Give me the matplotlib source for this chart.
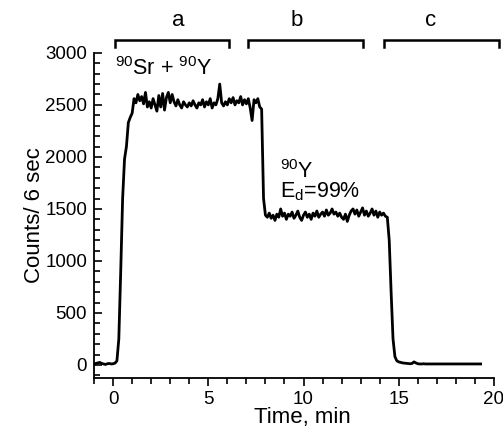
import numpy as np
import matplotlib.pyplot as plt
from matplotlib.ticker import MultipleLocator

plt.rcParams['font.family'] = ['Liberation Sans', 'DejaVu Sans']
plt.rcParams['mathtext.default'] = 'regular'

# --- data (one reading every 6 s = 0.1 min) ---
t_start = -1.0
t_step = 0.1

counts_baseline = [10, 15, 20, 25, 15, 10, 5, 12, 15, 10, 12, 18]          # -1.0 .. 0.1
counts_rise = [40, 250, 900, 1600, 1980, 2100, 2330, 2380, 2420, 2560]     # 0.2 .. 1.1
counts_sr_y = [2520, 2600, 2540, 2580, 2510, 2620, 2480, 2530, 2470, 2560,  # 1.2 .. 7.7
               2500, 2440, 2590, 2480, 2610, 2450, 2570, 2620, 2520, 2600,
               2530, 2490, 2550, 2500, 2470, 2530, 2500, 2480, 2520, 2490,
               2540, 2500, 2470, 2520, 2500, 2550, 2480, 2530, 2500, 2560,
               2470, 2520, 2500, 2560, 2700, 2520, 2490, 2530, 2500, 2560,
               2520, 2570, 2500, 2540, 2520, 2580, 2500, 2550, 2510, 2560,
               2470, 2350, 2550, 2520, 2560, 2480]
counts_drop1 = [2460, 1600, 1440]                                           # 7.8 .. 8.0
counts_y = [1420, 1460, 1410, 1440, 1390, 1450, 1420, 1500, 1430, 1460,    # 8.1 .. 14.3
            1400, 1450, 1430, 1470, 1410, 1440, 1480, 1420, 1390, 1440,
            1470, 1420, 1450, 1400, 1460, 1430, 1480, 1420, 1450, 1470,
            1430, 1490, 1440, 1460, 1500, 1450, 1470, 1430, 1460, 1420,
            1400, 1450, 1380, 1440, 1480, 1500, 1450, 1490, 1430, 1470,
            1510, 1440, 1480, 1430, 1460, 1500, 1440, 1480, 1420, 1470,
            1440, 1460, 1430]
counts_drop2 = [1420, 1200, 700, 250, 80, 40, 30]                           # 14.4 .. 15.0
counts_tail = [25, 20, 18, 15, 15, 12, 15, 30, 20, 12,                      # 15.1 .. 19.3
               10, 10, 12, 10, 10, 10, 10, 10, 10, 10,
               10, 10, 10, 10, 10, 10, 10, 10, 10, 10,
               10, 10, 10, 10, 10, 10, 10, 10, 10, 10,
               10, 10, 10]

counts = (counts_baseline + counts_rise + counts_sr_y + counts_drop1
          + counts_y + counts_drop2 + counts_tail)
time_min = t_start + t_step * np.arange(len(counts))

# measurement intervals marked above the plot
bracket_labels = ['a', 'b', 'c']
bracket_starts = [0.1, 7.1, 14.2]
bracket_ends = [6.1, 13.1, 20.25]
bracket_label_x = [3.4, 9.65, 16.7]

fig = plt.figure(figsize=(5.03, 4.37), dpi=100)
ax = fig.add_axes([0.187, 0.135, 0.795, 0.744])

ax.plot(time_min, counts, color='black', lw=2.0)

ax.set_xlim(-1, 20)
ax.set_ylim(-125, 3000)
ax.xaxis.set_major_locator(MultipleLocator(5))
ax.xaxis.set_minor_locator(MultipleLocator(1))
ax.yaxis.set_major_locator(MultipleLocator(500))
ax.yaxis.set_minor_locator(MultipleLocator(100))

ax.spines['top'].set_visible(False)
ax.spines['right'].set_visible(False)
for s in ('left', 'bottom'):
    ax.spines[s].set_linewidth(1.3)

ax.tick_params(axis='x', which='both', direction='out', width=1.2, labelsize=13.5)
ax.tick_params(axis='x', which='major', length=6)
ax.tick_params(axis='x', which='minor', length=4)
ax.tick_params(axis='y', which='both', direction='in', width=1.2, labelsize=13.5, pad=5)
ax.tick_params(axis='y', which='major', length=6)
ax.tick_params(axis='y', which='minor', length=4)

ax.set_xlabel('Time, min', fontsize=16)
ax.xaxis.set_label_coords(0.52, -0.09)
ax.set_ylabel('Counts/ 6 sec', fontsize=16, labelpad=0)

ax.text(0.1, 2790, r'$^{90}$Sr + $^{90}$Y', fontsize=15.5, ha='left', va='baseline')
ax.text(8.76, 1800, r'$^{90}$Y', fontsize=15.5, ha='left', va='baseline')
ax.text(8.76, 1610, r'E$_d$=99%', fontsize=15.5, ha='left', va='baseline')

for lab, x0, x1, xl in zip(bracket_labels, bracket_starts, bracket_ends, bracket_label_x):
    ax.plot([x0, x0, x1, x1], [3055, 3125, 3125, 3055], color='black', lw=1.8,
            clip_on=False, solid_joinstyle='miter')
    ax.text(xl, 3255, lab, fontsize=16, ha='center', va='baseline')

fig.savefig('out.png', dpi=100)
